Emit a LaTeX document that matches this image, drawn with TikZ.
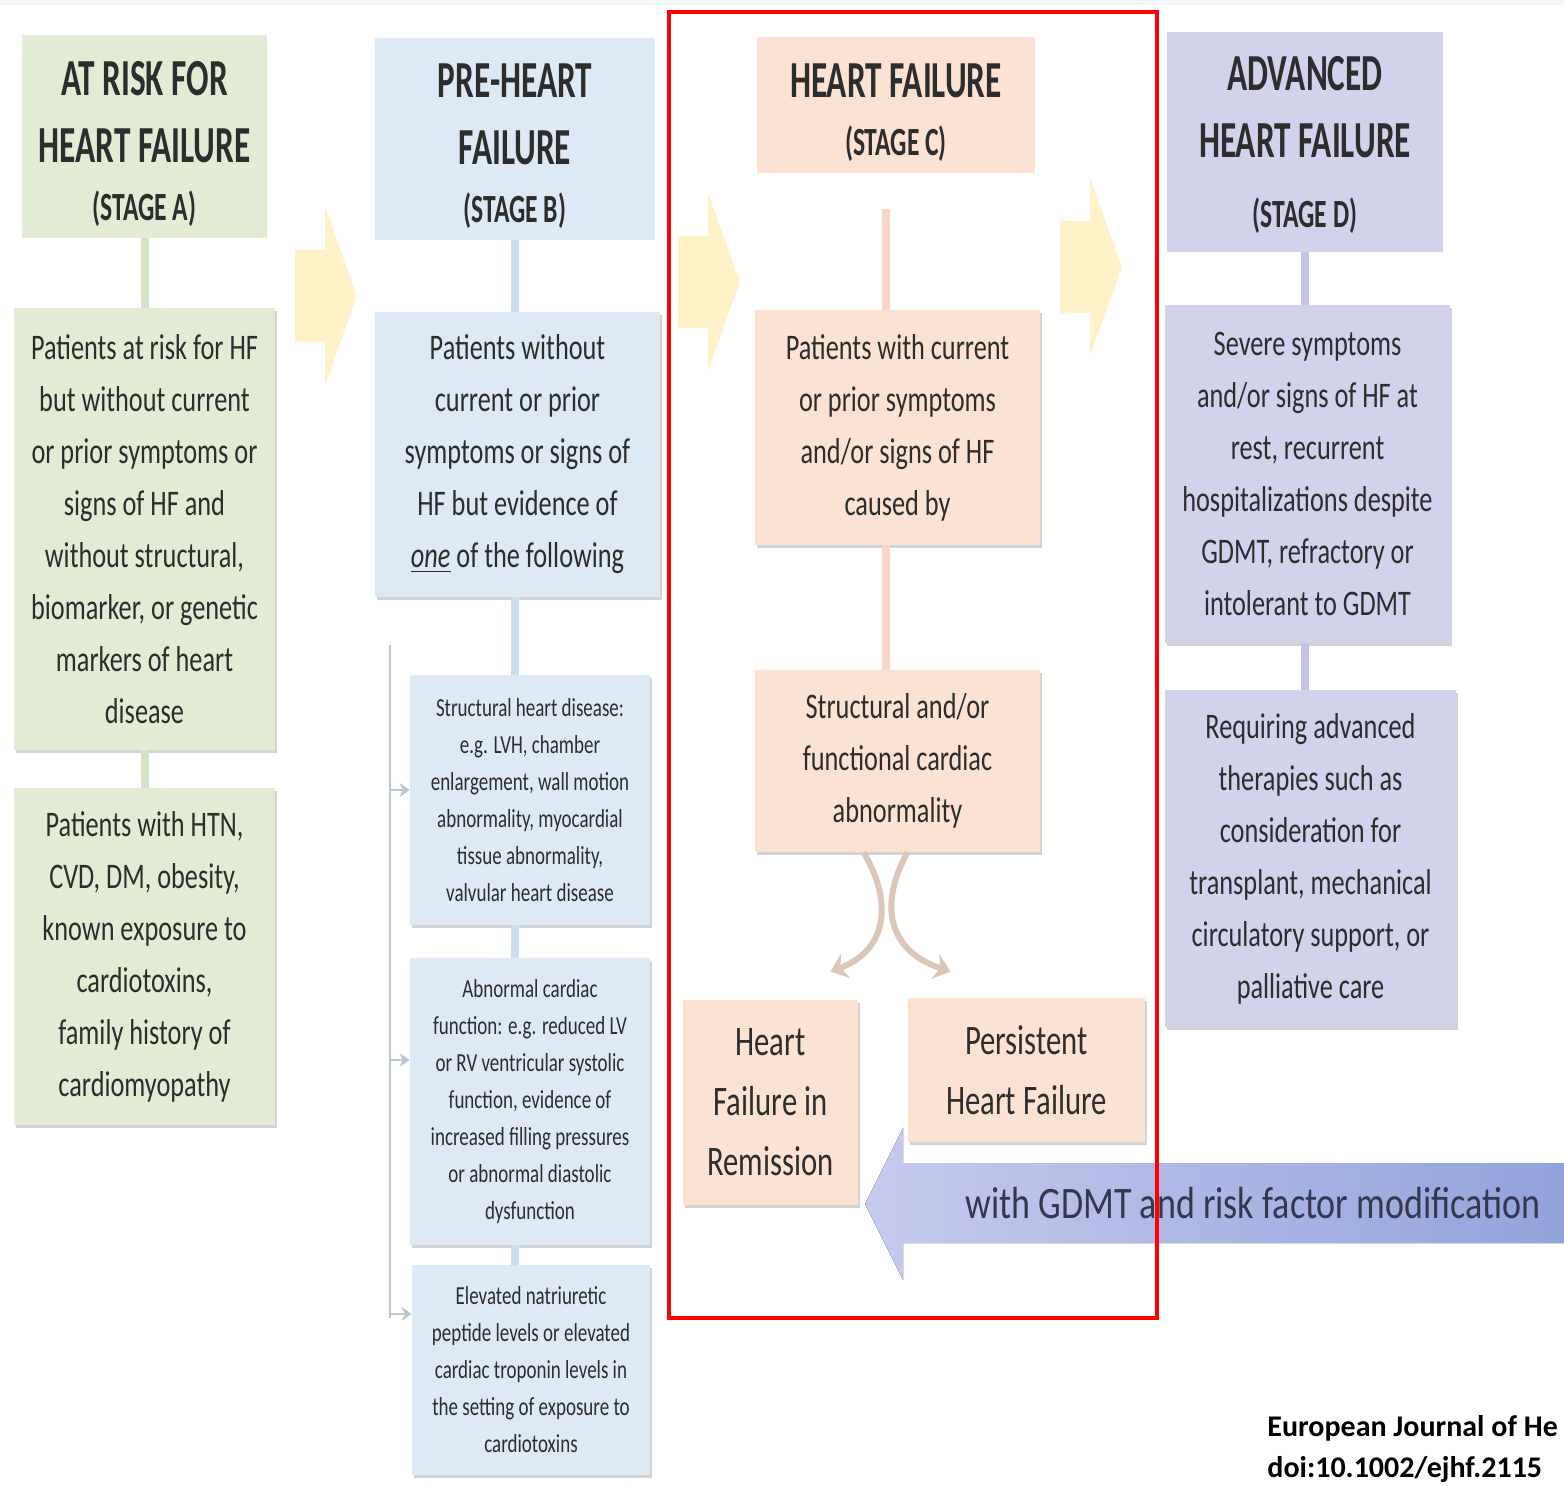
\documentclass[tikz,border=0pt]{standalone}
\usepackage{fontspec}
\setmainfont{Carlito}[FakeStretch=0.73]
\newfontfamily\headfont{Carlito}[FakeStretch=0.64]
\newfontfamily\bandfont{Carlito}[FakeStretch=0.8]
\newfontfamily\citefont{Carlito}
\usepackage{tikz}
\usetikzlibrary{arrows.meta,calc,shadows}
\usepackage{xcolor}
\definecolor{riskgreen}{RGB}{226,236,213}
\definecolor{preblue}{RGB}{221,233,245}
\definecolor{hfpeach}{RGB}{251,226,211}
\definecolor{advlilac}{RGB}{210,210,237}
\definecolor{linkgreen}{RGB}{214,226,200}
\definecolor{linkblue}{RGB}{205,221,238}
\definecolor{linkpeach}{RGB}{247,216,198}
\definecolor{linklilac}{RGB}{196,196,228}
\definecolor{stepyellow}{RGB}{255,242,200}
\definecolor{bandlight}{RGB}{198,202,238}
\definecolor{banddark}{RGB}{146,163,219}
\definecolor{bodygrey}{RGB}{45,45,45}
\definecolor{bandtext}{RGB}{52,55,78}
\definecolor{splitgrey}{RGB}{220,198,186}
\newcommand\stagetag[1]{{\fontsize{20}{32}\selectfont(STAGE #1)}}
\newcommand\headlines[2]{\raisebox{#1}[\height][\depth]{\begin{tabular}{@{}c@{}}#2\end{tabular}}}

\begin{document}
\begin{tikzpicture}[x=0.5pt,y=-0.5pt,
  stagebox/.style={fill=#1,inner sep=0pt,align=center,text=bodygrey,
    font=\headfont\bfseries\fontsize{26}{33.5}\selectfont},
  textbox/.style={fill=#1,inner sep=0pt,align=center,text=bodygrey,
    font=\fontsize{18}{26}\selectfont,
    drop shadow={shadow xshift=0.8pt,shadow yshift=-1.3pt,opacity=0.35}},
  smallbox/.style={textbox=#1,font=\fontsize{13}{18.5}\selectfont},
  bigbox/.style={textbox=#1,font=\fontsize{21}{30}\selectfont},
  link/.style={line width=4pt,draw=#1},
  bracket/.style={line width=1.2pt,draw=linkblue!75!gray},
  split/.style={line width=3pt,draw=splitgrey,-{Stealth[length=8pt,width=13pt]}},
  cite/.style={font=\citefont\bfseries\fontsize{15}{20}\selectfont,text=black,inner sep=0pt}]
  \useasboundingbox (0,0) rectangle (1564,1486);
  \clip (0,0) rectangle (1564,1486);
  \fill[preblue!40] (0,0) rectangle (1564,5);

  \foreach \ax/\ay in {295/296,678/282,1060/267}
    \fill[stepyellow] (\ax,{\ay-46}) -- ({\ax+30},{\ay-46}) -- ({\ax+30},{\ay-89})
      -- ({\ax+62},\ay) -- ({\ax+30},{\ay+89}) -- ({\ax+30},{\ay+46}) -- (\ax,{\ay+46}) -- cycle;

  \fill[left color=bandlight,right color=banddark] (865,1204) -- (903,1128) -- (903,1163)
    -- (1564,1163) -- (1564,1243) -- (903,1243) -- (903,1280) -- cycle;
  \node[font=\bandfont\fontsize{22.5}{26}\selectfont,text=bandtext] (gdmt) at (1253,1203)
    {with GDMT and risk factor modification};

  \node[stagebox=riskgreen,minimum width=122.5pt,minimum height=101.5pt] (tA) at (144.5,136.5)
    {\headlines{-4pt}{AT RISK FOR\\HEART FAILURE\\[-4.5pt]\stagetag{A}}};
  \node[textbox=riskgreen,minimum width=130.5pt,minimum height=221pt] (a1) at (144.5,529)
    {Patients at risk for HF\\but without current\\or prior symptoms or\\signs of HF and\\without structural,\\biomarker, or genetic\\markers of heart\\disease};
  \node[textbox=riskgreen,minimum width=130.5pt,minimum height=168.5pt] (a2) at (144.5,956.5)
    {Patients with HTN,\\CVD, DM, obesity,\\known exposure to\\cardiotoxins,\\family history of\\cardiomyopathy};

  \node[stagebox=preblue,minimum width=140pt,minimum height=101pt] (tB) at (515,139)
    {\headlines{-4pt}{PRE-HEART\\FAILURE\\[-4.5pt]\stagetag{B}}};
  \node[textbox=preblue,minimum width=142.5pt,minimum height=142.5pt] (b1) at (517.5,454.5)
    {Patients without\\current or prior\\symptoms or signs of\\HF but evidence of\\\underline{\textit{one}} of the following};
  \node[smallbox=preblue,minimum width=120pt,minimum height=125pt] (b2) at (530,800)
    {Structural heart disease:\\e.g. LVH, chamber\\enlargement, wall motion\\abnormality, myocardial\\tissue abnormality,\\valvular heart disease};
  \node[smallbox=preblue,minimum width=120pt,minimum height=143.5pt] (b3) at (530,1101.5)
    {Abnormal cardiac\\function: e.g. reduced LV\\or RV ventricular systolic\\function, evidence of\\increased filling pressures\\or abnormal diastolic\\dysfunction};
  \node[smallbox=preblue,minimum width=119pt,minimum height=105pt] (b4) at (531,1370)
    {Elevated natriuretic\\peptide levels or elevated\\cardiac troponin levels in\\the setting of exposure to\\cardiotoxins};

  \node[stagebox=hfpeach,minimum width=139pt,minimum height=68pt] (tC) at (896,105)
    {\headlines{-4pt}{HEART FAILURE\\[-4.5pt]\stagetag{C}}};
  \node[textbox=hfpeach,minimum width=142.5pt,minimum height=117.5pt] (c1) at (897.5,427.5)
    {Patients with current\\or prior symptoms\\and/or signs of HF\\caused by};
  \node[textbox=hfpeach,minimum width=142.5pt,minimum height=91pt] (c2) at (897.5,761)
    {Structural and/or\\functional cardiac\\abnormality};
  \node[bigbox=hfpeach,minimum width=87.5pt,minimum height=102.5pt] (c3) at (770.5,1102.5)
    {Heart\\Failure in\\Remission};
  \node[bigbox=hfpeach,minimum width=118.5pt,minimum height=72pt] (c4) at (1026.5,1070)
    {Persistent\\Heart Failure};

  \node[stagebox=advlilac,minimum width=138pt,minimum height=110pt] (tD) at (1305,142)
    {\headlines{-2pt}{ADVANCED\\HEART FAILURE\\[1.5pt]\stagetag{D}}};
  \node[textbox=advlilac,minimum width=142.5pt,minimum height=169pt] (d1) at (1307.5,474)
    {Severe symptoms\\and/or signs of HF at\\rest, recurrent\\hospitalizations despite\\GDMT, refractory or\\intolerant to GDMT};
  \node[textbox=advlilac,minimum width=145.5pt,minimum height=168.5pt] (d2) at (1310.5,858.5)
    {Requiring advanced\\therapies such as\\consideration for\\transplant, mechanical\\circulatory support, or\\palliative care};

  \draw[link=linkgreen] (tA) -- (a1);
  \draw[link=linkgreen] (a1) -- (a2);
  \draw[link=linkblue] (tB.south) -- (tB.south |- b1.north);
  \draw[link=linkblue] (b1.south -| tB.south) -- (b2.north -| tB.south);
  \draw[link=linkblue] (b2.south -| tB.south) -- (b3.north -| tB.south);
  \draw[link=linkblue] (b3.south -| tB.south) -- (b4.north -| tB.south);
  \draw[link=linkpeach] ([xshift=-5pt,yshift=-18pt]tC.south) -- ([xshift=-5pt]tC.south |- c1.north);
  \draw[link=linkpeach] ([xshift=-6pt]c1.south) -- ([xshift=-6pt]c2.north);
  \draw[link=linklilac] (tD) -- (tD.south |- d1.north);
  \draw[link=linklilac] (d1.south -| tD.south) -- (d2.north -| tD.south);

  \coordinate (brtop) at (390,645);
  \coordinate (brend) at (390,1318);
  \coordinate (br1) at (390,790);
  \coordinate (br2) at (390,1060);
  \coordinate (br3) at (390,1314);
  \draw[bracket] (brtop) -- (brend);
  \foreach \br/\bx in {br1/b2,br2/b3,br3/b4}
    \draw[bracket,-{Stealth[length=5pt,width=7pt]}] (\br) -- (\bx.west |- \br);

  \draw[split] ([xshift=-17pt]c2.south) .. controls +(29,48) and +(58,-22) .. ([xshift=30pt,yshift=14pt]c3.north);
  \draw[split] ([xshift=5pt]c2.south) .. controls +(-27,48) and +(-66,-22) .. ([xshift=-38pt,yshift=13pt]c4.north);

  \draw[red,line width=2.2pt] (669,12) rectangle (1157,1318);

  \node[cite,anchor=west] (journal) at (1267,1428) {European Journal of He};
  \node[cite,anchor=west] (doi) at (1267,1470) {doi:10.1002/ejhf.2115};
\end{tikzpicture}
\end{document}
